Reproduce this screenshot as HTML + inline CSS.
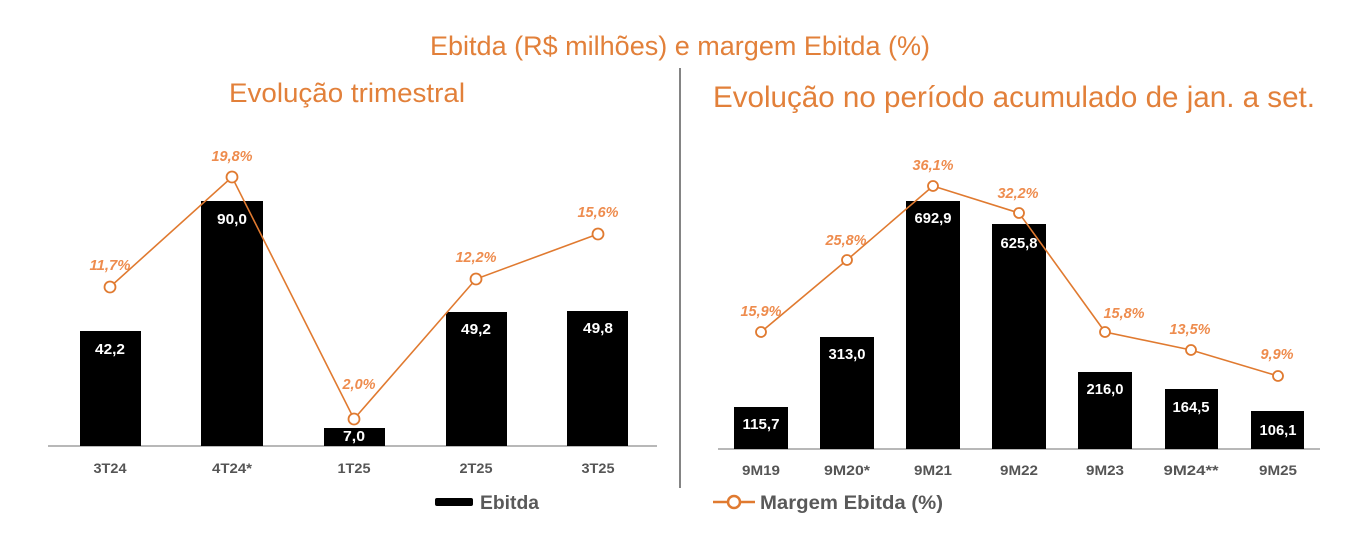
<!DOCTYPE html>
<html><head><meta charset="utf-8"><style>
html,body{margin:0;padding:0;background:#fff;}
svg{display:block;}
.t{font-family:"Liberation Sans",sans-serif;fill:#E2803A;}
.v{font-family:"Liberation Sans",sans-serif;font-weight:bold;font-size:15px;fill:#fff;text-anchor:middle;}
.p{font-family:"Liberation Sans",sans-serif;font-weight:bold;font-style:italic;font-size:15px;fill:#EE8C4E;text-anchor:middle;}
.c{font-family:"Liberation Sans",sans-serif;font-weight:bold;font-size:14px;fill:#555;text-anchor:middle;}
.l{font-family:"Liberation Sans",sans-serif;font-weight:bold;font-size:19px;fill:#595959;}
</style></head><body>
<svg width="1366" height="559" viewBox="0 0 1366 559" xmlns="http://www.w3.org/2000/svg">
<rect width="1366" height="559" fill="#fff"/>
<text class="t" x="430" y="55" font-size="27" textLength="500" lengthAdjust="spacingAndGlyphs">Ebitda (R$ milhões) e margem Ebitda (%)</text>
<text class="t" x="229" y="102" font-size="27" textLength="236" lengthAdjust="spacingAndGlyphs">Evolução trimestral</text>
<text class="t" x="713" y="107" font-size="30" textLength="602" lengthAdjust="spacingAndGlyphs">Evolução no período acumulado de jan. a set.</text>
<line x1="680" y1="68" x2="680" y2="488" stroke="#666" stroke-width="1.6"/>

<!-- Left chart -->
<line x1="48" y1="446" x2="657" y2="446" stroke="#a0a0a0" stroke-width="1.6"/>
<rect x="80" y="331" width="61" height="115" fill="#000"/>
<rect x="201" y="201" width="62" height="245" fill="#000"/>
<rect x="324" y="428" width="61" height="18" fill="#000"/>
<rect x="446" y="312" width="61" height="134" fill="#000"/>
<rect x="567" y="311" width="61" height="135" fill="#000"/>
<text class="v" x="110" y="354" textLength="30" lengthAdjust="spacingAndGlyphs">42,2</text>
<text class="v" x="232" y="224" textLength="30" lengthAdjust="spacingAndGlyphs">90,0</text>
<text class="v" x="354" y="441" textLength="22" lengthAdjust="spacingAndGlyphs">7,0</text>
<text class="v" x="476" y="334" textLength="30" lengthAdjust="spacingAndGlyphs">49,2</text>
<text class="v" x="598" y="333" textLength="30" lengthAdjust="spacingAndGlyphs">49,8</text>
<polyline points="110,287 232,177 354,419 476,279 598,234" fill="none" stroke="#E07A30" stroke-width="1.6"/>
<g fill="#fff" stroke="#E07A30" stroke-width="1.8">
<circle cx="110" cy="287" r="5.5"/><circle cx="232" cy="177" r="5.5"/><circle cx="354" cy="419" r="5.5"/><circle cx="476" cy="279" r="5.5"/><circle cx="598" cy="234" r="5.5"/>
</g>
<text class="p" x="110" y="270" textLength="41" lengthAdjust="spacingAndGlyphs">11,7%</text>
<text class="p" x="232" y="161" textLength="41" lengthAdjust="spacingAndGlyphs">19,8%</text>
<text class="p" x="359" y="389" textLength="33" lengthAdjust="spacingAndGlyphs">2,0%</text>
<text class="p" x="476" y="262" textLength="41" lengthAdjust="spacingAndGlyphs">12,2%</text>
<text class="p" x="598" y="217" textLength="41" lengthAdjust="spacingAndGlyphs">15,6%</text>
<text class="c" x="110" y="473" textLength="33" lengthAdjust="spacingAndGlyphs">3T24</text>
<text class="c" x="232" y="473" textLength="40" lengthAdjust="spacingAndGlyphs">4T24*</text>
<text class="c" x="354" y="473" textLength="33" lengthAdjust="spacingAndGlyphs">1T25</text>
<text class="c" x="476" y="473" textLength="33" lengthAdjust="spacingAndGlyphs">2T25</text>
<text class="c" x="598" y="473" textLength="33" lengthAdjust="spacingAndGlyphs">3T25</text>

<!-- Right chart -->
<line x1="718" y1="449" x2="1320" y2="449" stroke="#a0a0a0" stroke-width="1.6"/>
<rect x="734" y="407" width="54" height="42" fill="#000"/>
<rect x="820" y="337" width="54" height="112" fill="#000"/>
<rect x="906" y="201" width="54" height="248" fill="#000"/>
<rect x="992" y="224" width="54" height="225" fill="#000"/>
<rect x="1078" y="372" width="54" height="77" fill="#000"/>
<rect x="1165" y="389" width="53" height="60" fill="#000"/>
<rect x="1251" y="411" width="53" height="38" fill="#000"/>
<text class="v" x="761" y="429" textLength="37" lengthAdjust="spacingAndGlyphs">115,7</text>
<text class="v" x="847" y="359" textLength="37" lengthAdjust="spacingAndGlyphs">313,0</text>
<text class="v" x="933" y="223" textLength="37" lengthAdjust="spacingAndGlyphs">692,9</text>
<text class="v" x="1019" y="248" textLength="37" lengthAdjust="spacingAndGlyphs">625,8</text>
<text class="v" x="1105" y="394" textLength="37" lengthAdjust="spacingAndGlyphs">216,0</text>
<text class="v" x="1191" y="412" textLength="37" lengthAdjust="spacingAndGlyphs">164,5</text>
<text class="v" x="1278" y="435" textLength="37" lengthAdjust="spacingAndGlyphs">106,1</text>
<polyline points="761,332 847,260 933,186 1019,213 1105,332 1191,350 1278,376" fill="none" stroke="#E07A30" stroke-width="1.6"/>
<g fill="#fff" stroke="#E07A30" stroke-width="1.8">
<circle cx="761" cy="332" r="5"/><circle cx="847" cy="260" r="5"/><circle cx="933" cy="186" r="5"/><circle cx="1019" cy="213" r="5"/><circle cx="1105" cy="332" r="5"/><circle cx="1191" cy="350" r="5"/><circle cx="1278" cy="376" r="5"/>
</g>
<text class="p" x="761" y="316" textLength="41" lengthAdjust="spacingAndGlyphs">15,9%</text>
<text class="p" x="846" y="245" textLength="41" lengthAdjust="spacingAndGlyphs">25,8%</text>
<text class="p" x="933" y="170" textLength="41" lengthAdjust="spacingAndGlyphs">36,1%</text>
<text class="p" x="1018" y="198" textLength="41" lengthAdjust="spacingAndGlyphs">32,2%</text>
<text class="p" x="1124" y="318" textLength="41" lengthAdjust="spacingAndGlyphs">15,8%</text>
<text class="p" x="1190" y="334" textLength="41" lengthAdjust="spacingAndGlyphs">13,5%</text>
<text class="p" x="1277" y="359" textLength="33" lengthAdjust="spacingAndGlyphs">9,9%</text>
<text class="c" x="761" y="475" textLength="38" lengthAdjust="spacingAndGlyphs">9M19</text>
<text class="c" x="847" y="475" textLength="46" lengthAdjust="spacingAndGlyphs">9M20*</text>
<text class="c" x="933" y="475" textLength="38" lengthAdjust="spacingAndGlyphs">9M21</text>
<text class="c" x="1019" y="475" textLength="38" lengthAdjust="spacingAndGlyphs">9M22</text>
<text class="c" x="1105" y="475" textLength="38" lengthAdjust="spacingAndGlyphs">9M23</text>
<text class="c" x="1191" y="475" textLength="55" lengthAdjust="spacingAndGlyphs">9M24**</text>
<text class="c" x="1278" y="475" textLength="38" lengthAdjust="spacingAndGlyphs">9M25</text>

<!-- Legend -->
<rect x="435" y="498" width="38" height="8" rx="2" fill="#000"/>
<text class="l" x="480" y="509" textLength="59" lengthAdjust="spacingAndGlyphs">Ebitda</text>
<line x1="713" y1="502" x2="755" y2="502" stroke="#E07A30" stroke-width="2.5"/>
<circle cx="734" cy="502" r="6" fill="#fff" stroke="#E07A30" stroke-width="2.5"/>
<text class="l" x="760" y="509" textLength="183" lengthAdjust="spacingAndGlyphs">Margem Ebitda (%)</text>
</svg>
</body></html>
